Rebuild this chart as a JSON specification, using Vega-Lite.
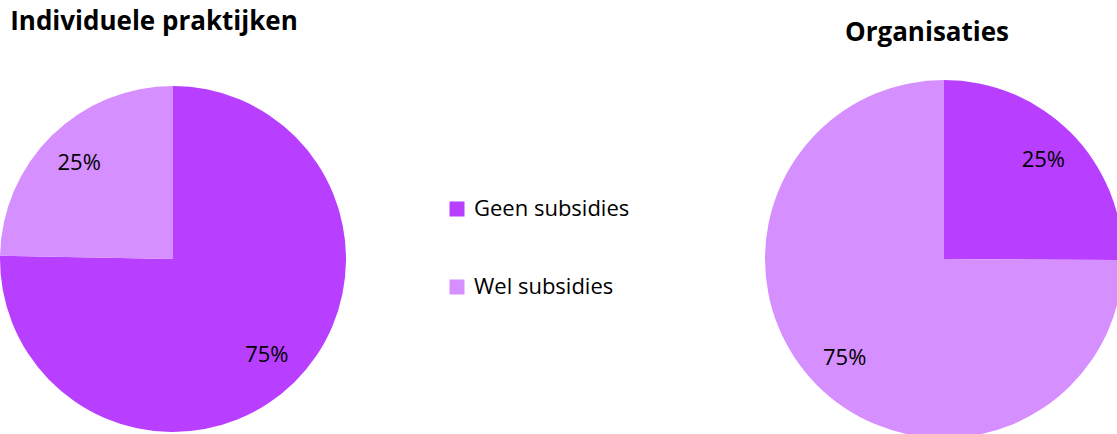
{
  "$schema": "https://vega.github.io/schema/vega-lite/v6.json",
  "width": 1117,
  "height": 434,
  "padding": 0,
  "autosize": {"type": "fit", "contains": "padding"},
  "config": {"view": {"stroke": null}, "font": "Open Sans"},
  "data": {"values": [
    {"group": "Individuele praktijken", "category": "Geen subsidies", "share": 0.753},
    {"group": "Individuele praktijken", "category": "Wel subsidies", "share": 0.247},
    {"group": "Organisaties", "category": "Geen subsidies", "share": 0.251},
    {"group": "Organisaties", "category": "Wel subsidies", "share": 0.749}
  ]},
  "encoding": {
    "x": {"field": "group", "type": "nominal", "axis": null,
      "scale": {"domain": ["Individuele praktijken", "Organisaties"], "range": [173, 944], "padding": 0}},
    "y": {"field": "group", "type": "nominal", "axis": null,
      "scale": {"domain": ["Individuele praktijken", "Organisaties"], "range": [259, 259], "padding": 0}}
  },
  "layer": [
    {
      "transform": [{"filter": "datum.group === 'Individuele praktijken'"}],
      "mark": {"type": "arc", "outerRadius": 173},
      "encoding": {
        "theta": {"field": "share", "type": "quantitative", "stack": true},
        "order": {"field": "category", "sort": "ascending"},
        "color": {"field": "category", "type": "nominal",
          "scale": {"domain": ["Geen subsidies", "Wel subsidies"], "range": ["#B83FFF", "#D58FFF"]},
          "legend": {"orient": "none", "legendX": 446, "legendY": 198, "title": null,
            "symbolType": "square", "symbolSize": 225, "symbolStrokeWidth": 0,
            "labelFontSize": 22, "labelColor": "#000000", "labelOffset": 6, "rowPadding": 56}}
      }
    },
    {
      "transform": [{"filter": "datum.group === 'Organisaties'"}],
      "mark": {"type": "arc", "outerRadius": 179},
      "encoding": {
        "theta": {"field": "share", "type": "quantitative", "stack": true},
        "order": {"field": "category", "sort": "ascending"},
        "color": {"field": "category", "type": "nominal"}
      }
    },
    {
      "transform": [{"filter": "datum.group === 'Individuele praktijken'"}],
      "mark": {"type": "text", "radius": 134, "fontSize": 22, "align": "center", "baseline": "middle"},
      "encoding": {
        "theta": {"field": "share", "type": "quantitative", "stack": true},
        "order": {"field": "category", "sort": "ascending"},
        "detail": {"field": "category", "type": "nominal"},
        "text": {"field": "share", "type": "quantitative", "format": ".0%"},
        "color": {"value": "#000000"}
      }
    },
    {
      "transform": [{"filter": "datum.group === 'Organisaties'"}],
      "mark": {"type": "text", "radius": 140, "fontSize": 22, "align": "center", "baseline": "middle"},
      "encoding": {
        "theta": {"field": "share", "type": "quantitative", "stack": true},
        "order": {"field": "category", "sort": "ascending"},
        "detail": {"field": "category", "type": "nominal"},
        "text": {"field": "share", "type": "quantitative", "format": ".0%"},
        "color": {"value": "#000000"}
      }
    },
    {
      "transform": [{"filter": "datum.group === 'Individuele praktijken' && datum.category === 'Geen subsidies'"}],
      "mark": {"type": "text", "fontSize": 26, "fontWeight": "bold", "dx": -19, "dy": -237, "align": "center", "baseline": "middle"},
      "encoding": {"text": {"field": "group"}, "color": {"value": "#000000"}}
    },
    {
      "transform": [{"filter": "datum.group === 'Organisaties' && datum.category === 'Geen subsidies'"}],
      "mark": {"type": "text", "fontSize": 26, "fontWeight": "bold", "dx": -17, "dy": -226, "align": "center", "baseline": "middle"},
      "encoding": {"text": {"field": "group"}, "color": {"value": "#000000"}}
    }
  ]
}
